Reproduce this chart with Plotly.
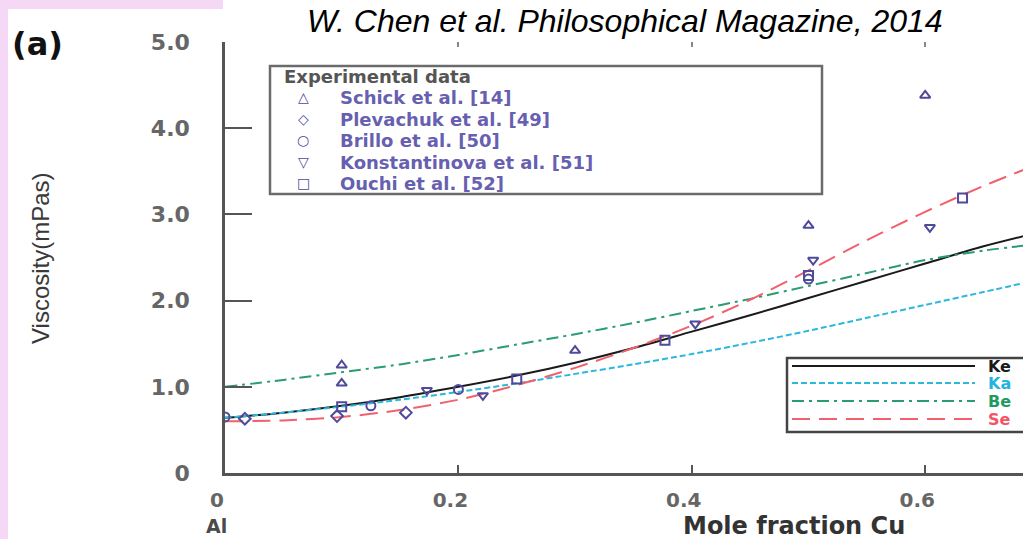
import plotly.graph_objects as go

# ---------------- data ----------------
x_model = [0, 0.05, 0.1, 0.15, 0.2, 0.25, 0.3, 0.35, 0.4, 0.45, 0.5, 0.55, 0.6, 0.65, 0.7]
visc_kozlov = [0.64, 0.70, 0.78, 0.88, 1.00, 1.13, 1.28, 1.45, 1.64, 1.83, 2.03, 2.23, 2.43, 2.63, 2.80]
visc_kaptay = [0.64, 0.70, 0.77, 0.85, 0.94, 1.04, 1.15, 1.26, 1.38, 1.51, 1.65, 1.80, 1.95, 2.10, 2.25]
visc_budai = [1.00, 1.08, 1.17, 1.26, 1.37, 1.49, 1.61, 1.74, 1.88, 2.02, 2.17, 2.32, 2.47, 2.58, 2.66]
visc_seeth = [0.60, 0.61, 0.65, 0.73, 0.85, 1.02, 1.22, 1.45, 1.71, 2.01, 2.35, 2.70, 3.03, 3.33, 3.60]

schick_x = [0.1, 0.1, 0.3, 0.5, 0.6]
schick_y = [1.25, 1.04, 1.42, 2.87, 4.38]
plevachuk_x = [0.017, 0.096, 0.155]
plevachuk_y = [0.63, 0.66, 0.70]
brillo_x = [0.0, 0.125, 0.2, 0.5]
brillo_y = [0.65, 0.78, 0.97, 2.25]
konst_x = [0.173, 0.221, 0.403, 0.504, 0.604]
konst_y = [0.96, 0.90, 1.73, 2.47, 2.85]
ouchi_x = [0.1, 0.25, 0.377, 0.5, 0.632]
ouchi_y = [0.77, 1.09, 1.54, 2.29, 3.19]

x_tickvals = [0, 0.2, 0.4, 0.6]
x_ticktext = ["0", "0.2", "0.4", "0.6"]
y_tickvals = [0, 1, 2, 3, 4, 5]
y_ticktext = ["0", "1.0", "2.0", "3.0", "4.0", "5.0"]

exp_labels = ["Schick et al. [14]", "Plevachuk et al. [49]", "Brillo et al. [50]",
              "Konstantinova et al. [51]", "Ouchi et al. [52]"]
exp_glyphs = ["\u25B3", "\u25C7", "\u25CB", "\u25BD", "\u25A1"]
# model names as visible in the (cropped) reference legend
model_labels = ["Ke", "Ka", "Be", "Se"]

# ---------------- geometry helpers ----------------
W, H = 1023, 539
L, R, T, B = 225, 0, 42, 66
PW, PH = W - L - R, H - T - B


def fx(p):
    return (p - L) / PW


def fy(p):
    return (H - B - p) / PH


PURPLE = "#4e4a9c"
PURPLE_TXT = "#675fb0"
GRAY = "#555555"
TICKGRAY = "#666666"
BOLD = "DejaVu Sans"

model_styles = [
    dict(color="#1a1a1a", dash="solid"),
    dict(color="#2bb8dd", dash="6px,3px"),
    dict(color="#2a9d6e", dash="12px,5px,3px,5px"),
    dict(color="#f2606e", dash="18px,9px"),
]
model_text_colors = ["#1a1a1a", "#22b4e0", "#1e9a62", "#f25566"]

fig = go.Figure()

for vals, st, name in zip([visc_kozlov, visc_kaptay, visc_budai, visc_seeth], model_styles, model_labels):
    fig.add_trace(go.Scatter(x=x_model, y=vals, mode="lines", name=name,
                             line=dict(color=st["color"], dash=st["dash"], width=2, shape="spline",
                                       smoothing=0.8),
                             showlegend=False, hoverinfo="skip"))

for xs, ys, sym, name in [
    (schick_x, schick_y, "triangle-up-open", exp_labels[0]),
    (plevachuk_x, plevachuk_y, "diamond-open", exp_labels[1]),
    (brillo_x, brillo_y, "circle-open", exp_labels[2]),
    (konst_x, konst_y, "triangle-down-open", exp_labels[3]),
    (ouchi_x, ouchi_y, "square-open", exp_labels[4]),
]:
    fig.add_trace(go.Scatter(x=xs, y=ys, mode="markers", name=name,
                             marker=dict(symbol=sym, size=9, color=PURPLE, line=dict(width=2, color=PURPLE)),
                             showlegend=False))

# invisible traces to anchor overlay axes (extra tick marks)
fig.add_trace(go.Scatter(x=[0], y=[0], xaxis="x2", yaxis="y", mode="markers",
                         marker=dict(opacity=0), showlegend=False, hoverinfo="skip"))
fig.add_trace(go.Scatter(x=[0], y=[0], xaxis="x", yaxis="y2", mode="markers",
                         marker=dict(opacity=0), showlegend=False, hoverinfo="skip"))

xr = [0, PW / 1167.0]
fig.update_layout(
    width=W, height=H,
    margin=dict(l=L, r=R, t=T, b=B, pad=0),
    paper_bgcolor="white", plot_bgcolor="white",
    xaxis=dict(range=xr, showline=True, linecolor=GRAY, linewidth=2.5,
               ticks="inside", ticklen=8, tickwidth=2, tickcolor=GRAY,
               tickmode="array", tickvals=x_tickvals, ticktext=x_ticktext,
               tickfont=dict(family=BOLD, size=20, color=TICKGRAY, weight="bold"),
               ticklabelstandoff=7, ticklabelshift=-8,
               showgrid=False, zeroline=False),
    xaxis2=dict(range=xr, overlaying="x", side="top", showline=False,
                ticks="inside", ticklen=5, tickwidth=2, tickcolor="#888888",
                tickmode="array", tickvals=[0.2, 0.4, 0.6], showticklabels=False,
                showgrid=False, zeroline=False),
    yaxis=dict(range=[0, 5], showline=True, linecolor=GRAY, linewidth=2.5,
               ticks="inside", ticklen=10, tickwidth=2, tickcolor=GRAY,
               tickmode="array", tickvals=y_tickvals, ticktext=y_ticktext,
               tickfont=dict(family=BOLD, size=22, color=TICKGRAY, weight="bold"),
               ticklabelstandoff=28,
               showgrid=False, zeroline=False),
    yaxis2=dict(range=[0, 5], overlaying="y", side="left", showline=False,
                ticks="inside", ticklen=27, tickwidth=2, tickcolor=GRAY,
                tickmode="array", tickvals=[1, 2, 3, 4], showticklabels=False,
                showgrid=False, zeroline=False),
)

shapes = []
# pink slide frame
pink = "#f5d8f5"
shapes.append(dict(type="rect", xref="paper", yref="paper", x0=fx(0), x1=fx(8), y0=fy(H), y1=fy(0),
                   fillcolor=pink, line=dict(width=0), layer="below"))
shapes.append(dict(type="rect", xref="paper", yref="paper", x0=fx(0), x1=fx(223), y0=fy(9), y1=fy(0),
                   fillcolor=pink, line=dict(width=0), layer="below"))
# experimental legend box
shapes.append(dict(type="rect", xref="paper", yref="paper", x0=fx(270), x1=fx(822), y0=fy(194), y1=fy(66),
                   fillcolor="white", line=dict(color="#6b6b6b", width=2.5)))
# model legend box
shapes.append(dict(type="rect", xref="paper", yref="paper", x0=fx(787), x1=fx(1060), y0=fy(432), y1=fy(358),
                   fillcolor="white", line=dict(color="#444444", width=2.5)))
model_rows = [366, 383, 401, 419]
for yy, st in zip(model_rows, model_styles):
    shapes.append(dict(type="line", xref="paper", yref="paper", x0=fx(792), x1=fx(975), y0=fy(yy), y1=fy(yy),
                       line=dict(color=st["color"], dash=st["dash"], width=2)))

annotations = []
annotations.append(dict(text="W. Chen et al. Philosophical Magazine, 2014", xref="paper", yref="paper",
                        x=fx(625), y=fy(1), xanchor="center", yanchor="top", showarrow=False,
                        font=dict(family="Liberation Sans", size=32, color="black", style="italic")))
annotations.append(dict(text="(a)", xref="paper", yref="paper", x=fx(10), y=fy(44),
                        xanchor="left", yanchor="middle", showarrow=False,
                        font=dict(family=BOLD, size=32, color="#111111", weight="bold")))
annotations.append(dict(text="Viscosity(mPas)", xref="paper", yref="paper", x=fx(40), y=fy(258),
                        xanchor="center", yanchor="middle", textangle=-90, showarrow=False,
                        font=dict(family="Liberation Sans Narrow, Liberation Sans", size=24, color="#3a3a3a")))
annotations.append(dict(text="Al", xref="paper", yref="paper", x=fx(216), y=fy(526),
                        xanchor="center", yanchor="middle", showarrow=False,
                        font=dict(family=BOLD, size=19, color="#4a4a4a", weight="bold")))
annotations.append(dict(text="Mole fraction Cu", xref="paper", yref="paper", x=fx(794), y=fy(526),
                        xanchor="center", yanchor="middle", showarrow=False,
                        font=dict(family=BOLD, size=24, color="#333333", weight="bold")))
annotations.append(dict(text="Experimental data", xref="paper", yref="paper", x=fx(282), y=fy(76),
                        xanchor="left", yanchor="middle", showarrow=False,
                        font=dict(family=BOLD, size=18, color="#555555", weight="bold")))
exp_rows = [97, 119, 140, 162, 183]
for yy, g, lab in zip(exp_rows, exp_glyphs, exp_labels):
    annotations.append(dict(text=g, xref="paper", yref="paper", x=fx(303), y=fy(yy),
                            xanchor="center", yanchor="middle", showarrow=False,
                            font=dict(family=BOLD, size=14, color=PURPLE, weight="bold")))
    annotations.append(dict(text=lab, xref="paper", yref="paper", x=fx(338), y=fy(yy),
                            xanchor="left", yanchor="middle", showarrow=False,
                            font=dict(family=BOLD, size=18, color=PURPLE_TXT, weight="bold")))
for yy, lab, c in zip(model_rows, model_labels, model_text_colors):
    annotations.append(dict(text=lab, xref="paper", yref="paper", x=fx(986), y=fy(yy),
                            xanchor="left", yanchor="middle", showarrow=False,
                            font=dict(family=BOLD, size=16, color=c, weight="bold")))

fig.update_layout(shapes=shapes, annotations=annotations)
fig.write_html("out.html")
